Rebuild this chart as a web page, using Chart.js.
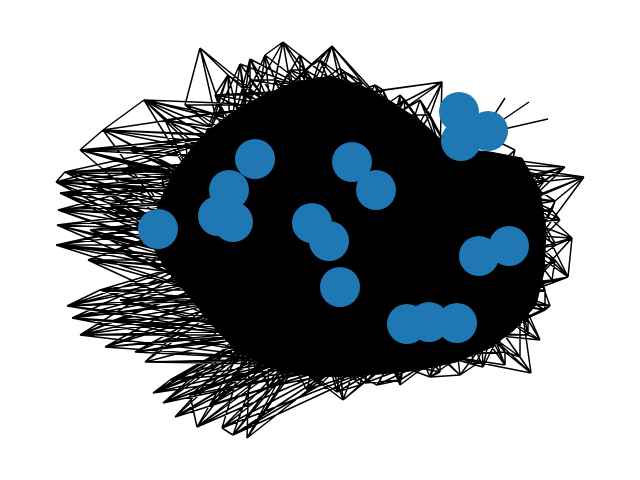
<!DOCTYPE html>
<html>
<head>
<meta charset="utf-8">
<script src="https://cdn.jsdelivr.net/npm/chart.js@4"></script>
<style>
  html, body { margin: 0; padding: 0; background: #fff; }
  #wrap { width: 640px; height: 480px; }
</style>
</head>
<body>
<div id="wrap"><canvas id="grafo" width="640" height="480"></canvas></div>
<script>
// =====================
// Nodos visibles (posiciones del layout)
// =====================
const shownNodes = [
  [459, 112], [488, 131], [461, 141], [255, 159], [352, 162], [229, 190],
  [376, 190], [158, 229], [218, 216], [233, 222], [312, 223], [329, 241],
  [509, 246], [479, 256], [340, 287], [407, 324], [429, 322], [457, 323]
];

// Nodos ocultos del núcleo
const hubNodes = [
  [190, 175], [230, 135], [270, 105], [310, 90], [350, 95], [395, 115],
  [440, 150], [500, 165], [530, 200], [530, 250], [520, 295], [490, 335],
  [440, 355], [390, 362], [340, 365], [290, 360], [250, 335], [230, 300],
  [200, 260], [175, 230], [260, 200], [340, 200], [430, 230], [380, 300],
  [290, 290], [300, 140], [450, 290], [482, 134], [210, 215], [245, 270],
  [270, 330], [320, 330], [410, 330], [480, 300], [500, 210], [470, 190],
  [400, 160], [350, 130], [250, 160], [215, 190]
];

// Nodos ocultos de la periferia (anillo exterior y anillo interior)
const rimNodes = [
  [56, 182], [60, 193], [58, 210], [57, 225], [56, 245], [65, 172],
  [80, 150], [103, 130], [144, 100], [88, 260], [67, 306], [72, 318],
  [80, 335], [105, 347], [135, 352], [145, 362], [153, 393], [163, 403],
  [175, 417], [197, 427], [222, 428], [233, 435], [247, 438], [268, 387],
  [307, 390], [337, 392], [343, 400], [365, 383], [377, 385], [430, 377],
  [483, 367], [531, 373], [520, 357], [528, 320], [550, 306], [568, 277],
  [572, 238], [555, 201], [584, 177], [565, 167], [548, 119], [529, 102],
  [505, 98], [442, 82], [383, 90], [362, 82], [332, 46], [283, 42],
  [250, 59], [240, 64], [228, 75], [200, 48], [300, 55], [265, 55],
  [320, 60], [95, 185], [110, 205], [90, 230], [120, 170], [130, 150],
  [100, 290], [120, 300], [115, 320], [170, 380], [190, 395], [210, 405],
  [120, 250], [165, 120], [185, 105], [215, 95], [250, 80], [290, 70],
  [340, 68], [400, 95], [420, 100], [545, 180], [560, 220], [555, 260],
  [545, 290], [540, 340], [505, 365], [460, 375], [400, 385],
  [160, 170], [185, 140], [215, 115], [245, 95], [275, 80], [305, 70],
  [345, 72], [375, 85], [405, 100], [430, 115], [515, 150], [540, 175],
  [552, 210], [556, 245], [552, 280], [545, 310], [528, 335], [505, 352],
  [475, 365], [440, 372], [400, 380], [360, 385], [320, 385], [285, 378],
  [255, 370], [230, 360], [212, 340], [200, 318], [190, 295], [170, 280],
  [150, 265], [138, 245], [140, 215], [150, 190]
];

// A qué nodos del núcleo se une cada nodo de la periferia
const rimTargets = [
  [0, 19, 20, 18, 1, 39, 28, 38], [19, 0, 20, 18, 28, 39, 29], [19, 18, 20, 0, 24, 28, 29, 39],
  [19, 18, 20, 17, 28, 29, 24], [18, 19, 17, 24, 20, 29, 28], [0, 1, 19, 20, 39, 38, 28],
  [0, 1, 19, 20, 25, 38, 39], [1, 0, 2, 19, 25, 38, 39], [1, 2, 0, 25, 20, 38],
  [18, 19, 17, 24, 29, 28, 16], [17, 18, 16, 24, 29, 30], [17, 16, 18, 24, 15, 29, 30],
  [16, 17, 18, 15, 29, 30], [16, 17, 15, 24, 30, 29], [16, 15, 17, 24, 30, 31],
  [16, 15, 14, 17, 30, 29], [15, 16, 14, 30, 31], [15, 16, 14, 24, 30, 31],
  [15, 16, 14, 30, 31], [15, 14, 16, 30, 31], [15, 14, 16, 13, 31],
  [15, 14, 13, 31, 30], [15, 14, 16, 31], [15, 14, 16, 13, 31, 30],
  [14, 15, 13, 31, 23], [14, 13, 15, 31, 23], [14, 13, 15, 23, 31],
  [13, 14, 12, 32, 23], [13, 12, 14, 32], [12, 13, 11, 32, 26],
  [11, 12, 10, 33, 26], [11, 10, 12, 33], [11, 10, 33],
  [10, 9, 11, 33], [10, 9, 11, 33, 26], [9, 10, 8, 33, 34],
  [9, 8, 10, 34, 22], [8, 9, 7, 34, 35], [8, 7, 9, 34, 35],
  [7, 8, 6, 34, 35], [27], [27],
  [27], [5, 6, 4, 36, 37], [5, 4, 37, 36],
  [4, 5, 3, 37], [3, 4, 2, 5, 37, 25], [2, 3, 4, 1, 25, 37],
  [1, 2, 3, 25, 38], [1, 2, 3, 0, 38], [1, 2, 0, 38, 25],
  [1, 2], [2, 3, 4, 25], [1, 2, 3, 25, 38],
  [3, 4, 5, 37], [0, 19, 28, 39, 20, 18], [19, 28, 18, 0, 20, 29],
  [19, 18, 28, 29, 17], [0, 39, 1, 38, 28], [0, 1, 39, 38, 25],
  [18, 17, 29, 24, 16], [17, 16, 29, 24, 30], [16, 17, 30, 29, 15],
  [15, 16, 30, 14, 31], [15, 14, 30, 31], [14, 15, 31, 30],
  [18, 19, 29, 28, 17], [1, 0, 38, 2, 25], [1, 2, 38, 25],
  [1, 2, 38, 25, 3], [2, 1, 3, 25], [3, 2, 4, 25, 37],
  [4, 3, 5, 37], [5, 6, 36, 37], [5, 6, 36, 35],
  [8, 7, 34, 35], [8, 9, 34, 22], [9, 10, 33, 34],
  [10, 9, 33, 26], [11, 10, 33], [11, 12, 33, 26],
  [12, 11, 32, 26], [13, 12, 32, 23],
  [0, 39, 38, 19, 28], [0, 1, 38, 39, 25], [1, 2, 38, 25, 0], [2, 1, 25, 38, 3],
  [2, 3, 25, 37], [3, 4, 25, 37, 2], [4, 3, 37, 5], [5, 4, 37, 36],
  [5, 6, 36, 37], [6, 5, 36, 35], [7, 27, 34, 35], [8, 7, 34, 35],
  [8, 9, 34, 22], [9, 8, 34, 33], [9, 10, 33, 26], [10, 11, 33, 26],
  [11, 10, 33, 32], [11, 12, 33, 26], [12, 11, 32, 26], [12, 13, 32, 23],
  [13, 12, 32, 23], [14, 13, 31, 23], [14, 15, 31, 24], [15, 14, 30, 31],
  [15, 16, 30, 24], [16, 15, 30, 29], [16, 17, 30, 29], [17, 16, 29, 24],
  [17, 18, 29, 24], [18, 17, 29, 28], [18, 19, 29, 28], [19, 18, 28, 29],
  [19, 28, 39, 18], [0, 39, 19, 28]
];

// Aristas entre nodos de la periferia
const rimPairs = [
  [51, 50], [8, 7], [7, 6], [47, 53], [46, 54], [46, 45], [43, 44],
  [0, 5], [38, 37], [36, 35], [31, 32], [21, 20], [55, 0], [58, 5],
  [59, 6], [66, 4], [60, 10], [62, 12], [63, 16], [64, 19], [67, 8],
  [68, 51], [69, 50], [75, 39], [77, 35], [79, 33], [81, 29],
  [0, 116], [0, 83], [1, 116], [2, 115], [3, 115], [3, 114], [4, 114],
  [5, 83], [6, 83], [6, 84], [7, 84], [8, 85], [8, 84], [9, 113],
  [10, 112], [11, 111], [12, 110], [13, 110], [14, 109], [15, 108],
  [16, 108], [17, 107], [18, 107], [19, 106], [20, 106], [21, 105],
  [22, 106], [23, 106], [24, 105], [25, 104], [26, 104], [27, 103],
  [28, 103], [29, 102], [30, 101], [31, 100], [32, 100], [33, 99],
  [34, 98], [35, 97], [36, 96], [37, 95], [38, 94], [39, 94], [43, 92],
  [44, 90], [45, 89], [46, 88], [47, 87], [48, 86], [49, 86], [50, 85],
  [51, 85], [52, 88], [53, 87], [54, 88], [55, 116], [56, 115], [57, 114],
  [58, 83], [59, 84], [60, 112], [61, 111], [62, 110], [63, 108],
  [64, 107], [65, 107], [66, 113], [67, 84], [68, 85], [69, 86],
  [70, 87], [71, 88], [72, 89], [73, 91], [74, 92], [75, 94], [76, 95],
  [77, 97], [78, 98], [79, 99], [80, 100], [81, 101], [82, 103]
];

// Contorno del núcleo denso
const coreOutline = [
  [175, 170], [200, 138], [230, 114], [262, 96], [295, 82], [330, 76],
  [362, 86], [392, 102], [422, 122], [450, 148], [490, 152], [522, 158],
  [540, 190], [546, 230], [544, 272], [536, 305], [514, 330], [490, 348],
  [456, 362], [420, 370], [380, 374], [340, 377], [300, 375], [265, 366],
  [238, 352], [218, 332], [200, 310], [182, 288], [165, 268], [152, 245],
  [158, 205], [175, 170]
];

// =====================
// Construir datos para Chart.js
// =====================
const toPt = p => ({ x: p[0], y: p[1] });
const corte = { x: null, y: null };

const edgePoints = [];
rimNodes.forEach((p, i) => {
  rimTargets[i].forEach(h => {
    edgePoints.push(toPt(p), toPt(hubNodes[h]), corte);
  });
});
rimPairs.forEach(([a, b]) => {
  edgePoints.push(toPt(rimNodes[a]), toPt(rimNodes[b]), corte);
});

const ctxGrafo = document.getElementById("grafo");
new Chart(ctxGrafo, {
  type: "scatter",
  data: {
    datasets: [
      {
        label: "nodos",
        data: shownNodes.map(toPt),
        backgroundColor: "#1f77b4",
        borderWidth: 0,
        pointRadius: 20,
        pointHoverRadius: 20,
        order: 0
      },
      {
        label: "aristas",
        data: edgePoints,
        showLine: true,
        borderColor: "#000",
        borderWidth: 1.5,
        pointRadius: 0,
        spanGaps: false,
        order: 1
      },
      {
        label: "nucleo",
        data: coreOutline.map(toPt),
        showLine: true,
        fill: "shape",
        backgroundColor: "#000",
        borderColor: "#000",
        borderWidth: 1,
        pointRadius: 0,
        order: 2
      }
    ]
  },
  options: {
    responsive: false,
    animation: false,
    layout: { padding: 0, autoPadding: false },
    plugins: {
      legend: { display: false },
      tooltip: { enabled: false }
    },
    scales: {
      x: { type: "linear", min: 0, max: 640, display: false },
      y: { type: "linear", min: 0, max: 480, reverse: true, display: false }
    }
  }
});
</script>
</body>
</html>
